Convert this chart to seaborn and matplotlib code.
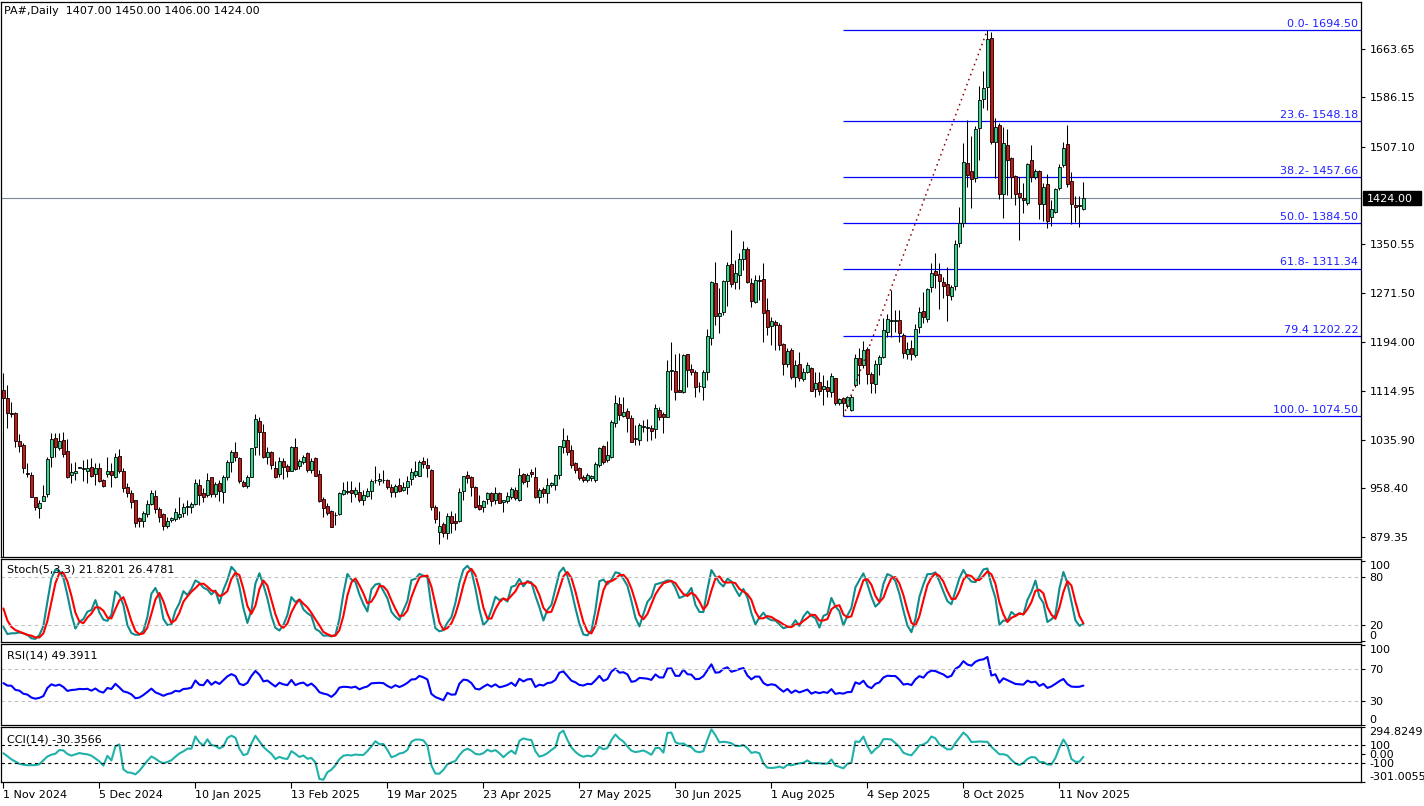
import numpy as np
import pandas as pd
import matplotlib
matplotlib.use("Agg")
import matplotlib.pyplot as plt
import seaborn as sns
from matplotlib.patches import Rectangle

sns.set_theme(style="white")
plt.rcParams["font.family"] = ["DejaVu Sans"]

# ---------------- data (PA#, Daily) ----------------
opens = [1116.3, 1102.9, 1079.9, 1078.8, 1034.4, 1027.9, 982.4, 979.7, 944.9, 927.3,
         938.5, 949.2, 1008.1, 1038.6, 1023.6, 1036.0, 1018.8, 979.7, 982.4, 991.5,
         989.4, 986.7, 992.1, 981.4, 990.4, 971.7, 981.9, 986.2, 976.0, 1010.3,
         986.2, 961.0, 951.4, 939.6, 910.7, 906.4, 917.1, 933.2, 946.0, 924.6,
         917.1, 898.4, 907.5, 909.1, 912.8, 918.2, 928.4, 928.9, 933.2, 963.7,
         950.3, 947.6, 976.0, 949.2, 966.4, 953.0, 976.0, 1000.1, 1016.1, 1006.5,
         967.9, 962.6, 977.1, 1024.2, 1067.0, 1048.3, 1008.1, 1017.2, 990.4, 981.4,
         1002.8, 994.2, 986.7, 1024.2, 994.7, 1000.1, 1015.6, 987.8, 1006.5, 981.4,
         941.2, 930.0, 921.9, 915.5, 916.6, 949.2, 951.9, 955.7, 949.2, 951.9,
         939.6, 946.5, 954.6, 971.2, 970.6, 971.7, 971.7, 961.0, 953.0, 963.7,
         955.7, 961.0, 972.8, 979.7, 978.7, 1002.2, 995.8, 987.8, 927.8, 888.7,
         900.5, 887.1, 913.9, 905.9, 905.9, 954.0, 979.7, 977.1, 961.0, 931.6,
         928.9, 940.7, 950.3, 939.6, 951.4, 935.8, 938.5, 944.9, 955.7, 939.6,
         980.8, 970.1, 984.0, 977.1, 943.9, 956.7, 951.4, 963.7, 963.7, 979.7,
         1025.2, 1036.0, 1019.9, 998.5, 990.4, 977.0, 971.7, 974.4, 971.7, 995.8,
         1026.3, 1003.8, 1009.2, 1062.7, 1093.8, 1074.5, 1082.5, 1070.8, 1037.5, 1036.0,
         1057.4, 1055.9, 1054.7, 1053.1, 1084.1, 1077.7, 1072.4, 1147.3, 1147.3, 1116.3,
         1113.6, 1173.6, 1149.5, 1144.6, 1122.2, 1120.6, 1144.6, 1199.2, 1288.7, 1235.6,
         1242.1, 1291.9, 1318.6, 1289.2, 1301.0, 1326.7, 1342.7, 1287.6, 1258.2, 1292.4,
         1294.0, 1244.7, 1219.1, 1225.5, 1220.7, 1190.2, 1157.5, 1180.5, 1136.6, 1158.0,
         1133.4, 1145.7, 1151.1, 1117.3, 1128.6, 1117.3, 1121.6, 1113.6, 1135.0, 1094.8,
         1102.9, 1090.6, 1084.1, 1124.3, 1167.1, 1156.4, 1182.1, 1142.0, 1125.4, 1158.0,
         1169.8, 1210.0, 1227.6, 1227.6, 1228.7, 1204.6, 1173.6, 1183.2, 1172.5, 1216.9,
         1243.7, 1229.8, 1281.2, 1307.9, 1302.0, 1290.3, 1286.0, 1267.2, 1283.3, 1351.8,
         1385.0, 1480.3, 1468.6, 1456.2, 1536.6, 1583.1, 1602.4, 1681.1, 1515.1, 1541.9,
         1431.1, 1509.8, 1488.4, 1460.0, 1432.1, 1424.1, 1416.0, 1485.7, 1457.8, 1468.0,
         1415.0, 1447.1, 1394.6, 1402.7, 1440.2, 1477.7, 1511.4, 1452.0, 1413.4, 1412.4,
         1407.0]
highs = [1143.0, 1124.3, 1097.5, 1081.5, 1045.6, 1030.6, 999.6, 985.1, 944.9, 939.6,
         963.7, 1009.2, 1047.7, 1047.7, 1047.7, 1049.4, 1037.0, 998.5, 1001.2, 992.1,
         1003.8, 1006.0, 1006.5, 998.5, 998.5, 972.8, 1009.2, 998.5, 1014.5, 1021.0,
         990.4, 966.4, 955.7, 939.6, 912.8, 922.5, 939.6, 955.7, 955.7, 928.9,
         919.2, 912.8, 912.8, 927.3, 944.9, 934.2, 940.0, 936.9, 972.8, 972.8,
         958.3, 982.4, 976.0, 969.0, 971.7, 979.7, 1003.8, 1019.9, 1032.2, 1009.2,
         971.7, 979.7, 1022.6, 1077.7, 1073.4, 1061.7, 1025.2, 1018.8, 1002.8, 1008.1,
         1006.5, 997.4, 1026.3, 1038.6, 1004.9, 1011.9, 1017.2, 1006.5, 1008.1, 987.8,
         944.9, 934.2, 923.5, 920.9, 953.0, 969.0, 970.6, 970.6, 961.0, 969.0,
         955.7, 958.3, 972.8, 994.2, 982.4, 987.8, 972.8, 965.3, 965.3, 974.4,
         969.0, 978.1, 990.4, 1002.8, 1003.8, 1008.1, 1006.5, 988.8, 931.0, 922.5,
         904.8, 918.2, 922.5, 918.2, 958.3, 978.1, 986.2, 978.1, 962.1, 947.6,
         939.6, 953.0, 953.0, 959.9, 953.0, 939.6, 953.0, 959.9, 961.0, 990.4,
         983.5, 982.4, 988.8, 992.1, 958.3, 961.0, 974.4, 969.0, 981.4, 1026.3,
         1054.7, 1044.0, 1027.9, 1001.2, 993.1, 979.7, 982.4, 980.0, 1001.2, 1025.2,
         1028.0, 1034.3, 1068.1, 1108.2, 1105.5, 1105.5, 1086.8, 1076.1, 1060.0, 1062.7,
         1068.1, 1069.1, 1060.0, 1093.8, 1089.5, 1081.5, 1164.4, 1193.9, 1174.1, 1175.2,
         1173.6, 1173.6, 1158.0, 1148.4, 1129.6, 1148.4, 1213.7, 1291.9, 1322.4, 1279.6,
         1292.9, 1322.4, 1373.3, 1325.1, 1335.8, 1356.1, 1346.5, 1295.6, 1301.0, 1301.0,
         1319.7, 1263.5, 1234.1, 1228.7, 1223.3, 1192.3, 1183.2, 1183.2, 1164.4, 1177.8,
         1151.1, 1161.8, 1153.8, 1145.7, 1145.7, 1140.4, 1132.3, 1143.0, 1135.0, 1102.9,
         1105.5, 1106.6, 1108.2, 1173.6, 1183.2, 1195.5, 1185.9, 1145.7, 1164.4, 1172.5,
         1231.4, 1238.3, 1276.9, 1244.7, 1244.7, 1207.3, 1193.9, 1196.6, 1222.3, 1249.1,
         1274.2, 1279.6, 1320.8, 1336.8, 1320.8, 1298.3, 1314.4, 1284.9, 1357.2, 1410.7,
         1513.6, 1550.0, 1524.3, 1540.3, 1604.6, 1629.2, 1694.5, 1692.0, 1552.6, 1544.6,
         1539.2, 1535.0, 1491.1, 1461.6, 1458.9, 1448.2, 1481.4, 1509.8, 1470.7, 1469.6,
         1448.2, 1463.2, 1421.4, 1440.2, 1479.3, 1515.1, 1541.9, 1466.9, 1427.9, 1427.9,
         1450.0]
lows = [845.0, 1054.7, 1072.4, 1024.2, 1017.2, 982.4, 977.1, 943.9, 923.5, 911.2,
        938.5, 944.9, 993.1, 1009.2, 1019.9, 1009.2, 974.4, 967.4, 971.7, 990.4,
        970.6, 967.4, 977.1, 963.7, 969.0, 959.9, 977.1, 961.0, 974.4, 982.4,
        951.9, 943.9, 927.3, 896.7, 896.7, 896.7, 912.8, 931.0, 918.2, 904.8,
        891.4, 894.1, 904.8, 906.4, 908.5, 912.8, 915.0, 918.2, 931.0, 931.0,
        936.9, 944.9, 944.9, 944.9, 938.5, 935.3, 971.7, 985.1, 1002.8, 966.4,
        959.9, 958.3, 976.0, 1011.9, 1011.9, 1006.5, 997.4, 988.8, 974.4, 976.0,
        973.3, 976.0, 986.7, 987.8, 989.4, 997.4, 985.1, 982.4, 978.1, 936.9,
        912.8, 915.5, 896.7, 899.4, 915.5, 947.6, 949.2, 936.9, 945.0, 936.9,
        931.6, 945.0, 940.7, 966.4, 963.7, 966.4, 956.7, 943.9, 943.9, 951.9,
        954.6, 948.7, 963.7, 976.0, 978.7, 990.4, 977.1, 923.5, 902.1, 868.4,
        880.7, 876.4, 886.0, 891.4, 904.8, 939.6, 967.4, 946.0, 927.3, 923.5,
        920.9, 933.2, 930.5, 933.2, 934.2, 920.9, 934.2, 940.7, 939.6, 938.5,
        965.3, 959.9, 977.1, 942.3, 934.2, 944.9, 935.3, 959.9, 955.7, 972.8,
        1014.5, 1011.9, 990.4, 982.4, 971.7, 969.0, 969.0, 970.0, 969.0, 993.1,
        998.0, 1001.2, 1006.5, 1057.4, 1068.1, 1073.4, 1049.3, 1033.3, 1027.9, 1027.9,
        1049.3, 1034.9, 1036.0, 1038.6, 1068.1, 1046.7, 1072.4, 1116.3, 1100.2, 1113.6,
        1110.9, 1121.6, 1140.4, 1105.5, 1113.6, 1100.2, 1132.3, 1188.6, 1220.7, 1208.4,
        1236.7, 1251.2, 1282.2, 1277.9, 1278.5, 1309.0, 1287.6, 1250.1, 1255.5, 1260.8,
        1193.9, 1204.6, 1188.6, 1180.5, 1180.5, 1140.4, 1153.8, 1133.4, 1121.6, 1131.2,
        1131.2, 1143.0, 1115.2, 1104.5, 1108.2, 1092.2, 1105.5, 1105.5, 1092.2, 1092.2,
        1074.5, 1086.8, 1083.0, 1120.6, 1125.4, 1151.1, 1125.4, 1110.9, 1110.9, 1140.4,
        1167.1, 1200.8, 1200.8, 1210.0, 1193.9, 1167.1, 1165.5, 1164.4, 1169.8, 1207.3,
        1223.4, 1226.0, 1274.2, 1279.6, 1245.8, 1263.5, 1227.6, 1260.8, 1276.9, 1346.5,
        1378.6, 1441.8, 1408.0, 1450.9, 1485.7, 1568.7, 1566.0, 1511.4, 1456.3, 1422.5,
        1392.0, 1429.5, 1424.0, 1413.4, 1357.2, 1401.1, 1413.4, 1450.9, 1454.6, 1390.3,
        1388.2, 1376.0, 1379.7, 1401.1, 1437.5, 1475.0, 1442.9, 1382.9, 1386.6, 1378.6,
        1406.0]
closes = [1102.9, 1078.8, 1077.2, 1034.9, 1026.9, 991.5, 981.9, 944.9, 928.9, 934.2,
          946.0, 1004.9, 1037.0, 1024.2, 1034.4, 1013.5, 977.1, 984.0, 986.2, 991.5,
          989.6, 991.5, 978.7, 990.4, 970.6, 962.1, 986.2, 979.7, 1009.2, 986.7,
          959.4, 951.4, 936.9, 903.2, 906.4, 918.2, 933.2, 950.3, 924.6, 912.8,
          898.4, 906.4, 910.2, 920.9, 917.1, 927.8, 928.9, 933.2, 966.4, 947.1,
          944.9, 971.7, 949.2, 965.3, 954.6, 976.0, 1000.1, 1016.1, 1008.1, 970.6,
          962.6, 976.0, 1022.6, 1069.1, 1049.3, 1009.2, 1016.1, 995.8, 976.0, 1002.8,
          992.1, 986.7, 1024.2, 989.4, 1002.2, 1008.1, 987.8, 1002.2, 978.7, 938.5,
          926.2, 918.2, 896.7, 915.0, 950.3, 955.7, 954.6, 950.3, 955.7, 939.6,
          948.2, 954.0, 970.1, 972.0, 972.8, 971.5, 959.9, 951.9, 962.1, 954.6,
          961.0, 970.6, 985.1, 986.2, 1001.2, 996.9, 990.4, 928.9, 908.5, 897.8,
          886.0, 913.9, 902.1, 903.2, 953.0, 978.1, 975.5, 961.0, 928.9, 924.6,
          938.0, 950.3, 938.5, 950.3, 935.3, 939.6, 946.0, 956.7, 942.3, 979.7,
          967.9, 979.7, 981.4, 943.9, 955.7, 951.4, 963.7, 966.4, 979.7, 1026.3,
          1036.0, 1017.2, 995.8, 987.8, 974.4, 971.7, 979.7, 978.1, 996.9, 1022.6,
          1001.2, 1011.9, 1065.4, 1094.8, 1076.1, 1080.4, 1070.8, 1033.3, 1038.6, 1060.0,
          1058.5, 1056.3, 1051.0, 1086.8, 1073.4, 1073.4, 1146.8, 1148.3, 1113.6, 1113.6,
          1172.5, 1148.4, 1145.7, 1120.6, 1123.2, 1144.6, 1203.0, 1290.3, 1235.6, 1240.5,
          1291.3, 1317.0, 1286.5, 1303.7, 1326.7, 1342.7, 1290.3, 1259.8, 1292.9, 1292.0,
          1239.4, 1218.0, 1227.1, 1220.7, 1188.6, 1157.5, 1178.9, 1136.6, 1156.4, 1135.0,
          1145.7, 1156.4, 1115.2, 1127.0, 1115.2, 1122.7, 1115.2, 1138.8, 1095.9, 1101.3,
          1095.9, 1104.5, 1105.5, 1167.1, 1156.4, 1180.5, 1142.0, 1127.0, 1158.0, 1169.8,
          1212.6, 1229.8, 1228.2, 1228.0, 1207.3, 1176.2, 1181.6, 1173.6, 1213.7, 1242.1,
          1233.0, 1278.0, 1303.7, 1301.0, 1291.9, 1283.8, 1268.8, 1281.2, 1350.8, 1384.0,
          1482.0, 1461.6, 1454.6, 1535.0, 1582.1, 1600.8, 1679.5, 1515.1, 1539.2, 1431.1,
          1512.5, 1485.7, 1457.8, 1431.1, 1425.7, 1421.4, 1479.3, 1457.8, 1468.0, 1415.0,
          1441.8, 1388.2, 1406.4, 1438.6, 1475.0, 1505.5, 1446.6, 1414.5, 1410.7, 1412.0,
          1424.0]

# indicator values at the left edge (history before the first bar)
stoch_k_start = [18, 9, 10, 10, 11, 10, 8]
stoch_d_start = [41, 26, 18, 14, 12, 10, 8, 7]
cci_start = [11, -22, -55, -80, -105, -113, -119, -119, -118, -108, -65, -25, -5, 5]
rsi_seed_gain, rsi_seed_loss = 15.75, 14.25

date_labels = ["1 Nov 2024", "5 Dec 2024", "10 Jan 2025", "13 Feb 2025", "19 Mar 2025",
               "23 Apr 2025", "27 May 2025", "30 Jun 2025", "1 Aug 2025", "4 Sep 2025",
               "8 Oct 2025", "11 Nov 2025"]
price_ticks = [1663.65, 1586.15, 1507.10, 1350.55, 1271.50, 1194.00, 1114.95,
               1035.90, 958.40, 879.35]
fib_prices = [1694.50, 1548.18, 1457.66, 1384.50, 1311.34, 1202.22, 1074.50]
fib_texts = ["0.0- 1694.50", "23.6- 1548.18", "38.2- 1457.66", "50.0- 1384.50",
             "61.8- 1311.34", "79.4 1202.22", "100.0- 1074.50"]
fib_start_bar, fib_end_bar = 210, 246
last_price = 1424.00
header = "PA#,Daily  1407.00 1450.00 1406.00 1424.00"
stoch_label = "Stoch(5,3,3) 21.8201 26.4781"
rsi_label = "RSI(14) 49.3911"
cci_label = "CCI(14) -30.3566"
cci_range = (-301.0055, 294.8249)

# ---------------- indicators ----------------
o = np.array(opens); h = np.array(highs); l = np.array(lows); c = np.array(closes)
n = len(c)
xs = np.arange(n)
Hs, Ls, Cs = pd.Series(h), pd.Series(l), pd.Series(c)
ll = Ls.rolling(5).min(); hh = Hs.rolling(5).max()
stk = 100 * (Cs - ll).rolling(3).sum() / (hh - ll).rolling(3).sum()
stk.iloc[:len(stoch_k_start)] = stoch_k_start
std = stk.rolling(3).mean()
std.iloc[:len(stoch_d_start)] = stoch_d_start

delta = np.diff(c, prepend=np.nan)
gain = np.where(delta > 0, delta, 0.0); loss = np.where(delta < 0, -delta, 0.0)
rsi = np.full(n, np.nan)
ag, al = rsi_seed_gain, rsi_seed_loss
rsi[0] = 100 - 100 / (1 + ag / al)
for i in range(1, n):
    ag = (ag * 13 + gain[i]) / 14
    al = (al * 13 + loss[i]) / 14
    rsi[i] = 100 - 100 / (1 + ag / al)

tp = (Hs + Ls + Cs) / 3
sma = tp.rolling(14).mean()
md = tp.rolling(14).apply(lambda v: np.mean(np.abs(v - v.mean())), raw=True)
cci = (tp - sma) / (0.015 * md)
cci.iloc[:len(cci_start)] = cci_start

# ---------------- layout ----------------
W, H = 1424, 806
fig = plt.figure(figsize=(W / 100, H / 100), dpi=100)
fig.patch.set_facecolor("white")

def rect(x0, y0, x1, y1):
    return [x0 / W, 1 - y1 / H, (x1 - x0) / W, (y1 - y0) / H]

ax = fig.add_axes(rect(1, 2, 1361, 557))
ax_st = fig.add_axes(rect(1, 559, 1361, 642))
ax_rsi = fig.add_axes(rect(1, 644, 1361, 725))
ax_cci = fig.add_axes(rect(1, 727, 1361, 782))
axes = [ax, ax_st, ax_rsi, ax_cci]
xlim = (-0.6, -0.6 + 1360 / 4)
FS = 8
for a in axes:
    a.set_facecolor("white")
    a.set_xlim(*xlim)
    for s in a.spines.values():
        s.set_color("black"); s.set_linewidth(0.9); s.set_visible(True)
    a.yaxis.tick_right()
    a.tick_params(axis="y", which="both", right=True, left=False, length=3, width=0.8,
                  pad=3, labelsize=FS, colors="black", direction="out")
    a.tick_params(axis="x", bottom=False, labelbottom=False)
    a.grid(False)

# ---------------- main candles ----------------
UP, DN = "#2fd98f", "#d41414"
up = c >= o
body_low = np.minimum(o, c)
body_h = np.maximum(np.abs(c - o), 0.9)
ax.vlines(xs, l, h, color="black", linewidth=0.75, zorder=2)
ax.bar(xs[up], body_h[up], bottom=body_low[up], width=0.62, color=UP,
       edgecolor="black", linewidth=0.6, zorder=3)
ax.bar(xs[~up], body_h[~up], bottom=body_low[~up], width=0.62, color=DN,
       edgecolor="black", linewidth=0.6, zorder=3)
ax.set_ylim(848.0, 1739.5)
ax.set_yticks(price_ticks)
ax.set_yticklabels([f"{p:.2f}" for p in price_ticks])

# current price line
ax.axhline(last_price, color="#778899", linewidth=0.8, zorder=1)

# fibonacci
ax.plot([fib_start_bar, fib_end_bar], [fib_prices[-1], fib_prices[0]], color="#8b0000",
        linestyle=(0, (1, 2.5)), linewidth=1.1, zorder=4)
for p, t in zip(fib_prices, fib_texts):
    ax.hlines(p, fib_start_bar, xlim[1], color="#0000ff", linewidth=0.9, zorder=1)
    ax.text(xlim[1] - 0.7, p + 2, t, color="#2020ff", fontsize=FS, ha="right", va="bottom")

# price box
fig.patches.append(Rectangle((1363 / W, 1 - 205 / H), 58 / W, 14 / H,
                             transform=fig.transFigure, facecolor="black",
                             edgecolor="black", zorder=10))
fig.text(1367 / W, 1 - 198.5 / H, f"{last_price:.2f}", color="white", fontsize=FS,
         va="center", ha="left", zorder=11)

# ---------------- stochastic ----------------
sns.lineplot(x=xs, y=stk.values, ax=ax_st, color="#0f8c8c", linewidth=1.5)
sns.lineplot(x=xs, y=std.values, ax=ax_st, color="#ff0000", linewidth=1.5)
ax_st.set_ylim(-0.9, 102.9)
for lv in (80, 20):
    ax_st.axhline(lv, color="#c0c0c0", linestyle=(0, (3, 3)), linewidth=0.8)
ax_st.set_yticks([100, 80, 20, 0]); ax_st.set_yticklabels(["100", "80", "20", "0"])

# ---------------- RSI ----------------
sns.lineplot(x=xs, y=rsi, ax=ax_rsi, color="#0000ff", linewidth=1.5)
ax_rsi.set_ylim(0.4, 101.6)
for lv in (70, 30):
    ax_rsi.axhline(lv, color="#c0c0c0", linestyle=(0, (3, 3)), linewidth=0.8)
ax_rsi.set_yticks([100, 70, 30, 0]); ax_rsi.set_yticklabels(["100", "70", "30", "0"])

# ---------------- CCI ----------------
sns.lineplot(x=xs, y=cci.values, ax=ax_cci, color="#20b2aa", linewidth=1.5)
ax_cci.set_ylim(*cci_range)
for lv in (100, -100):
    ax_cci.axhline(lv, color="black", linestyle=(0, (3, 3)), linewidth=0.8)
ax_cci.set_yticks([cci_range[1], 100, 0, -100, cci_range[0]])
ax_cci.set_yticklabels([f"{cci_range[1]:.4f}", "100", "0.00", "-100", f"{cci_range[0]:.4f}"])

for a in axes[1:]:
    labs = a.get_yticklabels()
    labs[0].set_va("top"); labs[-1].set_va("bottom")
for a in axes:
    a.set_xlabel(""); a.set_ylabel("")
    if a.get_legend() is not None:
        a.get_legend().remove()

# x axis (dates)
ax_cci.set_xticks(np.arange(0, n, 24)[:len(date_labels)])
ax_cci.set_xticklabels(date_labels, ha="left")
ax_cci.tick_params(axis="x", bottom=True, labelbottom=True, length=4, width=0.8,
                   pad=2, labelsize=FS, colors="black", direction="out")
for lab in ax_cci.get_xticklabels():
    lab.set_horizontalalignment("left")

# panel titles
fig.text(4 / W, 1 - 11 / H, header, fontsize=FS, va="center", ha="left", color="black")
fig.text(7 / W, 1 - 570 / H, stoch_label, fontsize=FS, va="center", ha="left", color="black")
fig.text(7 / W, 1 - 655 / H, rsi_label, fontsize=FS, va="center", ha="left", color="black")
fig.text(7 / W, 1 - 739 / H, cci_label, fontsize=FS, va="center", ha="left", color="black")

fig.savefig("out.png", dpi=100, facecolor="white")
